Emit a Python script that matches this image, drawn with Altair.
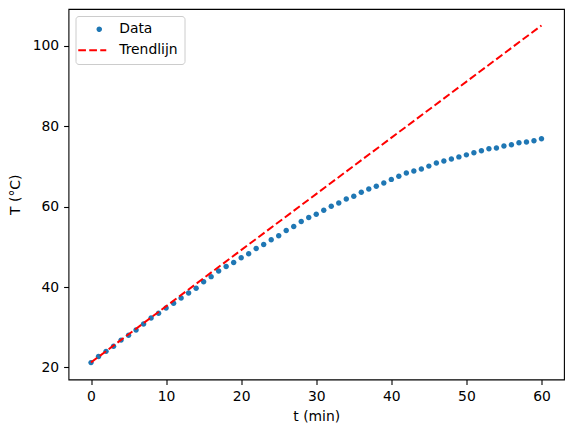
import altair as alt
import pandas as pd

# ---- data ----
t_data = list(range(61))
T_data = [21.2, 22.7, 24.0, 25.3, 26.8, 28.0, 29.3, 30.8, 32.3, 33.5,
          34.8, 36.0, 37.3, 38.5, 39.7, 41.3, 42.6, 44.0, 45.1, 46.1,
          47.3, 48.3, 49.6, 50.6, 51.8, 52.8, 54.1, 55.1, 56.3, 57.3,
          58.1, 59.1, 60.1, 60.9, 61.9, 62.6, 63.6, 64.4, 65.1, 65.9,
          66.8, 67.6, 68.4, 68.9, 69.4, 70.1, 70.9, 71.4, 71.9, 72.4,
          72.9, 73.4, 73.9, 74.4, 74.6, 75.1, 75.4, 75.9, 76.1, 76.4,
          76.9]
t_trend = [0, 60]
T_trend = [21.25, 105.1]

series_names = ["Data", "Trendlijn"]
series_colors = ["#1f77b4", "#ff0000"]
x_ticks = [0, 10, 20, 30, 40, 50, 60]
y_ticks = [20, 40, 60, 80, 100]

df_data = pd.DataFrame({"t": t_data, "T": T_data, "series": "Data"})
df_trend = pd.DataFrame({"t": t_trend, "T": T_trend, "series": "Trendlijn"})

FONT = "DejaVu Sans"
FS = 13.9

CIRCLE_PATH = "M1,0A1,1,0,1,1,-1,0A1,1,0,1,1,1,0Z"
LINE_PATH = "M-12,0L4,0"

x_enc = alt.X("t:Q", title="t (min)",
              scale=alt.Scale(domain=[-3, 63], nice=False, zero=False),
              axis=alt.Axis(values=x_ticks, titlePadding=6))
y_enc = alt.Y("T:Q", title="T (°C)",
              scale=alt.Scale(domain=[17.0, 109.2], nice=False, zero=False),
              axis=alt.Axis(values=y_ticks, titlePadding=10))

color_enc = alt.Color("series:N",
                      scale=alt.Scale(domain=series_names, range=series_colors),
                      legend=alt.Legend(title=None))

points = alt.Chart(df_data).mark_point(filled=True, size=30, opacity=1).encode(
    x=x_enc, y=y_enc, color=color_enc,
    shape=alt.Shape("series:N",
                    scale=alt.Scale(domain=series_names, range=[CIRCLE_PATH, LINE_PATH]),
                    legend=alt.Legend(title=None)),
)

trend = alt.Chart(df_trend).mark_line(strokeWidth=2).encode(
    x=x_enc, y=y_enc, color=color_enc,
    strokeDash=alt.StrokeDash("series:N",
                              scale=alt.Scale(domain=series_names, range=[[1, 0], [7.7, 3.3]]),
                              legend=alt.Legend(title=None)),
)

chart = alt.layer(points, trend).properties(
    width=495.5,
    height=370.5,
    autosize=alt.AutoSizeParams(type="none"),
    padding={"left": 60.5, "top": 1, "right": 1, "bottom": 46},
).configure_view(
    stroke="black", strokeWidth=1.1
).configure_axis(
    grid=False, domain=False,
    labelFont=FONT, labelFontSize=FS, labelColor="black",
    titleFont=FONT, titleFontSize=FS, titleFontWeight="normal", titleColor="black",
    tickColor="black", tickSize=4.9, tickWidth=1.1, labelPadding=4.9,
).configure_legend(
    orient="top-left", offset=7, padding=6.3, rowPadding=6,
    symbolSize=12.25, symbolStrokeWidth=2, symbolOffset=10.5, labelOffset=13,
    strokeColor="#cccccc", fillColor="white", cornerRadius=3,
    labelFont=FONT, labelFontSize=FS, labelColor="black",
)

chart.save("out.html", embed_options={"renderer": "svg", "actions": False})
